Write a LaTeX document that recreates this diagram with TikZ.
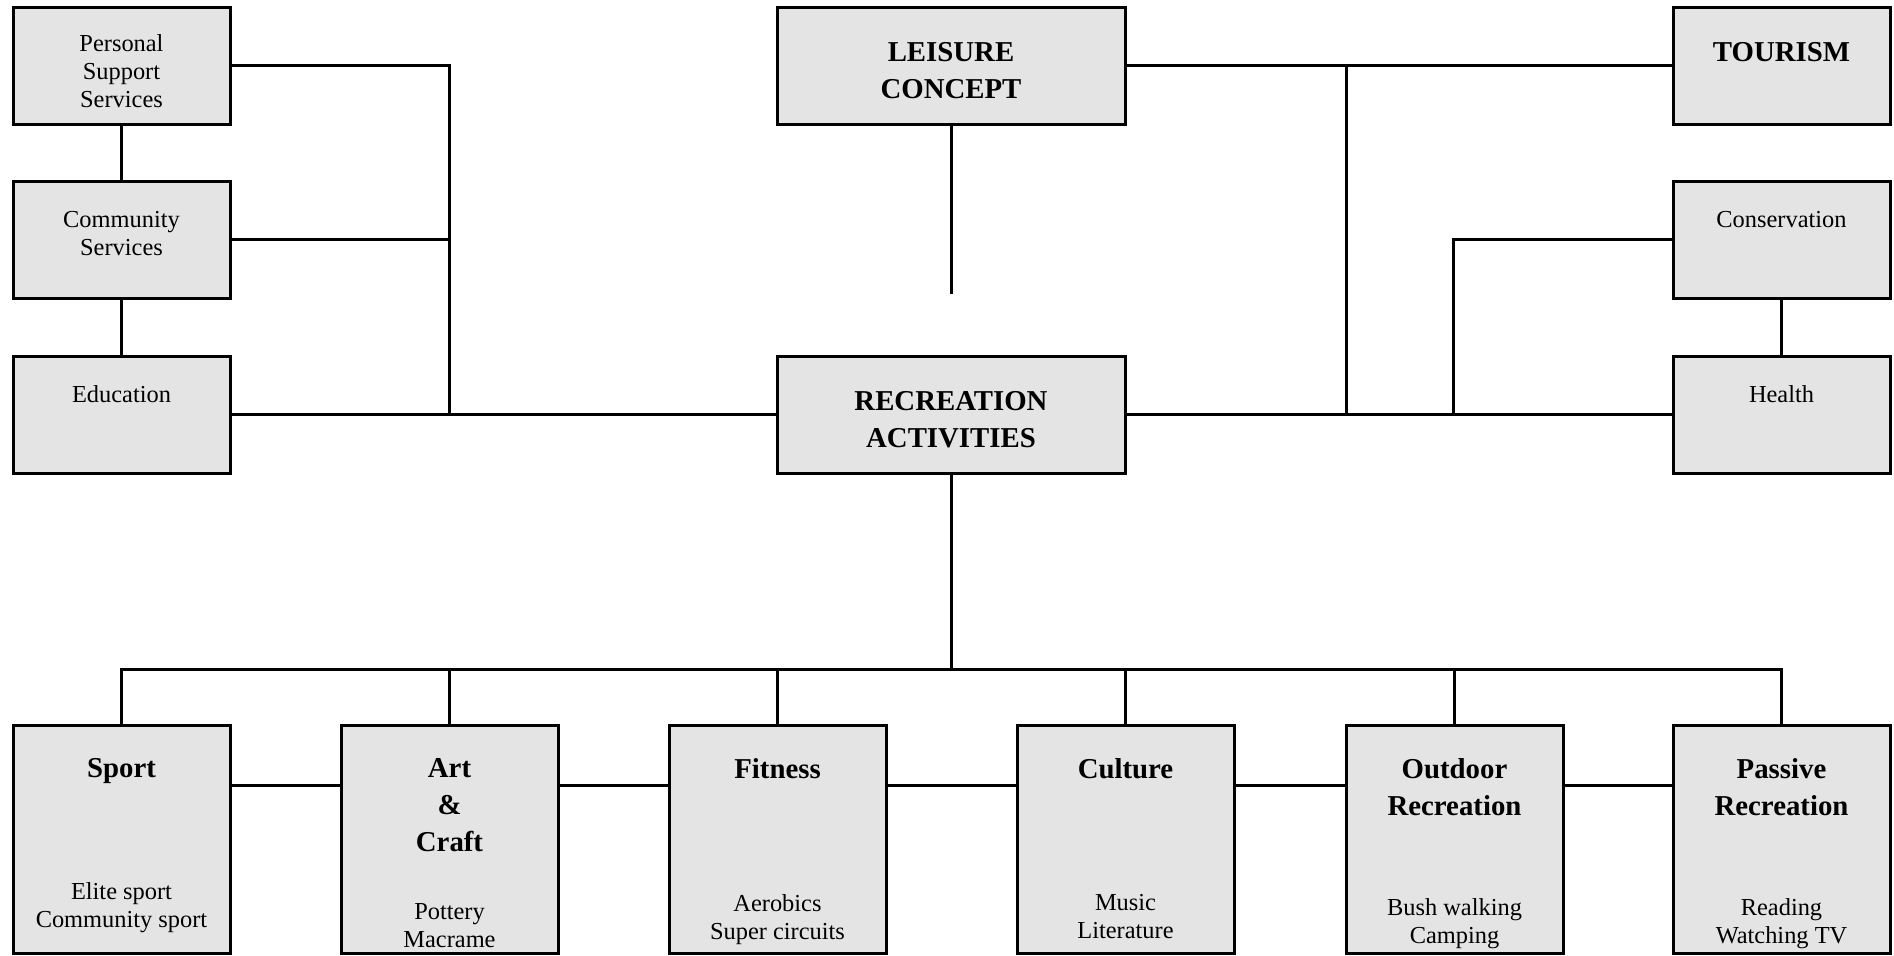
\documentclass[tikz,border=0pt]{standalone}
\usepackage{fontspec}
\setmainfont{Liberation Serif}
\usetikzlibrary{positioning}
\definecolor{boxgray}{HTML}{E4E4E4}
\tikzset{
	box/.style={draw,fill=boxgray,line width=1.5pt,anchor=north west,inner sep=0pt,outer sep=0pt},
	sidebox/.style={box,minimum width=108.5pt,minimum height=58.5pt},
	mainbox/.style={box,minimum width=174pt,minimum height=58.5pt},
	actbox/.style={box,minimum width=108.5pt,minimum height=114pt},
	txt/.style={align=center,inner sep=0pt,anchor=north,font=\fontsize{12.2}{14}\selectfont},
	head/.style={txt,font=\fontsize{14.4}{18.5}\selectfont\bfseries},
	link/.style={line width=1.5pt}
}
\begin{document}
\begin{tikzpicture}[x=0.5pt,y=-0.5pt]
	\useasboundingbox (0,0) rectangle (1894,955);

	\node[sidebox] (pss) at (13,7) {};
	\node[sidebox] (com) at (13,181) {};
	\node[sidebox] (edu) at (13,356) {};
	\node[mainbox] (leis) at (777,7) {};
	\node[mainbox] (rec) at (777,356) {};
	\node[sidebox] (tour) at (1673,7) {};
	\node[sidebox] (cons) at (1673,181) {};
	\node[sidebox] (hlth) at (1673,356) {};

	\node[txt,below=13.5pt of pss.north] (pss-t) {Personal\\Support\\Services};
	\node[txt,below=15pt of com.north] (com-t) {Community\\Services};
	\node[txt,below=14.5pt of edu.north] (edu-t) {Education};
	\node[head,below=17.5pt of leis.north] (leis-t) {LEISURE\\CONCEPT};
	\node[head,below=17.5pt of rec.north] (rec-t) {RECREATION\\ACTIVITIES};
	\node[head,below=17.5pt of tour.north] (tour-t) {TOURISM};
	\node[txt,below=15pt of cons.north] (cons-t) {Conservation};
	\node[txt,below=14.5pt of hlth.north] (hlth-t) {Health};

	\node[actbox] (sport) at (13,725) {};
	\node[actbox] (art) at (341,725) {};
	\node[actbox] (fit) at (669,725) {};
	\node[actbox] (cult) at (1017,725) {};
	\node[actbox] (outd) at (1346,725) {};
	\node[actbox] (pass) at (1673,725) {};

	\node[head,below=16.5pt of sport.north] (sport-t) {Sport};
	\node[head,below=16.5pt of art.north] (art-t) {Art\\\&\\Craft};
	\node[head,below=16.5pt of fit.north] (fit-t) {Fitness};
	\node[head,below=16.5pt of cult.north] (cult-t) {Culture};
	\node[head,below=16.5pt of outd.north] (outd-t) {Outdoor\\Recreation};
	\node[head,below=16.5pt of pass.north] (pass-t) {Passive\\Recreation};

	\node[txt,below=78.5pt of sport.north] (sport-s) {Elite sport\\Community sport};
	\node[txt,below=89pt of art.north] (art-s) {Pottery\\Macrame};
	\node[txt,below=84.5pt of fit.north] (fit-s) {Aerobics\\Super circuits};
	\node[txt,below=84.5pt of cult.north] (cult-s) {Music\\Literature};
	\node[txt,below=86.5pt of outd.north] (outd-s) {Bush walking\\Camping};
	\node[txt,below=86.5pt of pass.north] (pass-s) {Reading\\Watching TV};

	\coordinate (ljoin) at (449,415);
	\coordinate (rjoin) at (1346,415);
	\coordinate (cjoin) at (1453,415);
	\coordinate (lend) at (951,294);
	\coordinate (bus) at (951,669);
	\coordinate (row) at (0,785);

	\draw[link] (pss.east) -| (ljoin);
	\draw[link] (com.east) -- (com.east -| ljoin);
	\draw[link] (edu.east) -- (rec.west);
	\draw[link] (pss.south) -- (com.north);
	\draw[link] (com.south) -- (edu.north);
	\draw[link] (leis.south) -- (leis.south |- lend);
	\draw[link] (leis.east) -- (tour.west);
	\draw[link] (leis.east -| rjoin) -- (rjoin);
	\draw[link] (rec.east) -- (hlth.west);
	\draw[link] (cons.west) -| (cjoin);
	\draw[link] (cons.south) -- (hlth.north);

	\draw[link] (rec.south) -- (rec.south |- bus);
	\draw[link] (sport.north) |- (bus) -| (pass.north);
	\foreach \n in {art,fit,cult,outd}
		\draw[link] (\n.north) -- (\n.north |- bus);
	\foreach \a/\b in {sport/art,art/fit,fit/cult,cult/outd,outd/pass}
		\draw[link] (\a.east |- row) -- (\b.west |- row);
\end{tikzpicture}
\end{document}
